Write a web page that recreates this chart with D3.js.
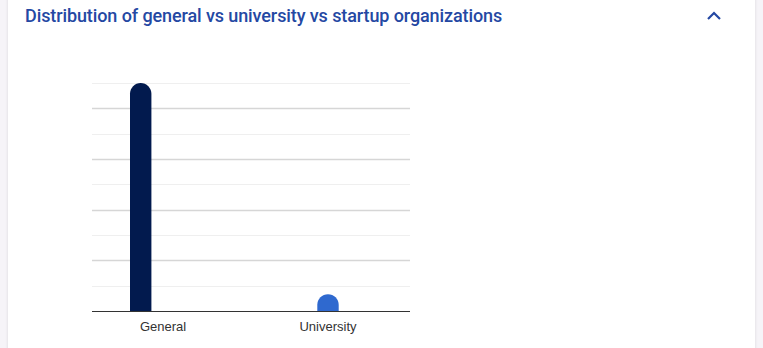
<!DOCTYPE html>
<html>
<head>
<meta charset="utf-8">
<script src="https://cdn.jsdelivr.net/npm/d3@7"></script>
<style>
  html, body { margin: 0; padding: 0; background: #f6f4f8; }
  body { width: 763px; height: 348px; overflow: hidden; position: relative; }
  .card { position: absolute; left: 8px; top: -4px; width: 747px; height: 360px; background: #fff;
          box-shadow: 0 0 3px rgba(0,0,0,0.12); }
  svg { position: absolute; left: 0; top: 0; }
</style>
</head>
<body>
<div class="card"></div>
<svg id="chart" width="763" height="348"></svg>
<script>
const TITLE = "Distribution of general vs university vs startup organizations";
const categories = ["General", "University"];
const series = ["General", "University", "Startup"];
const values = [27, 2];
const yTicks = [0, 3, 6, 9, 12, 15, 18, 21, 24, 27];
const colors = { General: "#021a4e", University: "#2f69cf", Startup: "#8fb3ea" };

const svg = d3.select("#chart");

svg.append("text")
  .attr("x", 25).attr("y", 22)
  .attr("font-family", "Roboto, sans-serif")
  .attr("font-size", 18)
  .attr("font-weight", 500)
  .attr("fill", "#2448a3")
  .attr("letter-spacing", -0.1)
  .text(TITLE);

// collapse chevron
svg.append("path")
  .attr("d", "M708,19 L714,13 L720,19")
  .attr("fill", "none")
  .attr("stroke", "#2448a3")
  .attr("stroke-width", 2.2);

const plotLeft = 92, plotRight = 410, plotTop = 83, plotBottom = 311;

const y = d3.scaleLinear().domain([0, 27]).range([plotBottom, plotTop]);
const x = d3.scaleBand().domain(categories).range([80.5, 410.5]);
const xSub = d3.scaleBand().domain(series).range([0, 66]).paddingInner(0.04);

// gridlines
svg.append("g").selectAll("line")
  .data(yTicks.filter(d => d > 0))
  .join("line")
  .attr("x1", plotLeft).attr("x2", plotRight)
  .attr("y1", d => Math.round(y(d)) + 0.5)
  .attr("y2", d => Math.round(y(d)) + 0.5)
  .attr("stroke", d => (d / 3) % 2 === 0 ? "#d6d6d6" : "#efefef")
  .attr("stroke-width", d => (d / 3) % 2 === 0 ? 1.3 : 1);

// bars (grouped, each category holds its own series)
const bars = categories.map((c, i) => ({ cat: c, ser: c, v: values[i] }));
svg.append("g").selectAll("path")
  .data(bars)
  .join("path")
  .attr("fill", d => colors[d.ser])
  .attr("d", d => {
    const x0 = x(d.cat) + x.bandwidth() / 2 - 33 + xSub(d.ser);
    const w = xSub.bandwidth();
    const y0 = y(d.v), y1 = y(0);
    const r = Math.min(w / 2, (y1 - y0));
    return `M${x0},${y1} L${x0},${y0 + r} A${r},${r} 0 0 1 ${x0 + w},${y0 + r} L${x0 + w},${y1} Z`;
  });

// x axis baseline
svg.append("line")
  .attr("x1", plotLeft).attr("x2", plotRight)
  .attr("y1", plotBottom + 0.5).attr("y2", plotBottom + 0.5)
  .attr("stroke", "#333").attr("stroke-width", 1);

svg.append("g").selectAll("text")
  .data(categories)
  .join("text")
  .attr("x", d => x(d) + x.bandwidth() / 2)
  .attr("y", 331)
  .attr("text-anchor", "middle")
  .attr("font-family", "'Liberation Sans', Arial, sans-serif")
  .attr("font-size", 13)
  .attr("fill", "#333")
  .text(d => d);
</script>
</body>
</html>
